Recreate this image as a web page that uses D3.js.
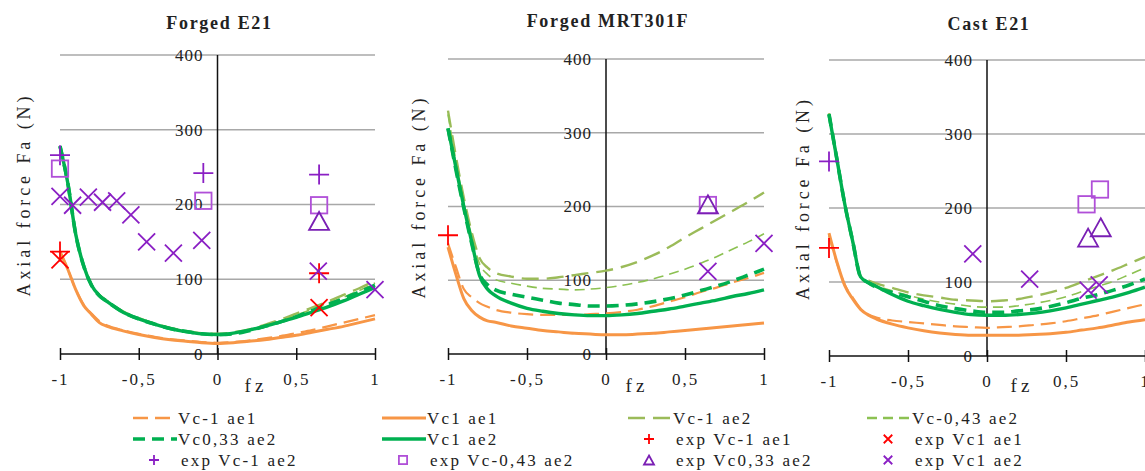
<!DOCTYPE html>
<html>
<head>
<meta charset="utf-8">
<script src="https://cdn.jsdelivr.net/npm/d3@7"></script>
<style>
  body { margin: 0; background: #fff; }
  text { font-family: "Liberation Serif", "DejaVu Serif", serif; fill: #222; }
</style>
</head>
<body>
<script>
'use strict';

// fz sample points shared by all model curves
const fz = [-1, -0.95, -0.9, -0.85, -0.8, -0.75, -0.7, -0.6, -0.5, -0.4, -0.3, -0.2, -0.1, 0, 0.1, 0.2, 0.3, 0.4, 0.5, 0.6, 0.7, 0.8, 0.9, 1];
const yTicks = [0, 100, 200, 300, 400];
const xTicks = [-1, -0.5, 0, 0.5, 1];

// Forged E21
const e21VcM1ae1   = [137, 113, 86, 66, 54, 44, 38, 32, 27, 23, 20, 18, 16, 15, 16, 18, 21, 24, 28, 32, 37, 42, 47, 52];
const e21Vc1ae1    = [137, 113, 86, 65, 53, 42, 37, 31, 26, 22, 19, 17, 15, 14, 15, 17, 19, 22, 25, 29, 33, 37, 42, 47];
const e21VcM1ae2   = [278, 228, 160, 118, 93, 79, 71, 57, 48, 41, 35, 31, 28, 27, 29, 33, 39, 46, 54, 62, 70, 79, 88, 98];
const e21VcM043ae2 = [278, 228, 160, 118, 92, 78, 70, 56, 47, 40, 35, 30, 27, 26, 28, 32, 38, 44, 52, 60, 68, 76, 85, 95];
const e21Vc033ae2  = [278, 228, 160, 118, 92, 78, 70, 56, 47, 40, 34, 30, 27, 26, 27, 31, 37, 43, 50, 58, 66, 74, 83, 92];
const e21Vc1ae2    = [278, 228, 160, 118, 92, 78, 70, 56, 47, 40, 34, 30, 27, 26, 28, 32, 37, 43, 49, 56, 63, 71, 80, 89];

// Forged MRT301F
const mrtVcM1ae1   = [150, 118, 88, 77, 69, 64, 60, 56, 54, 53, 53, 53, 54, 55, 57, 60, 65, 71, 77, 84, 90, 97, 103, 110];
const mrtVc1ae1    = [145, 108, 75, 59, 50, 45, 43, 38, 35, 32, 30, 28, 27, 26, 26, 27, 28, 30, 32, 34, 36, 38, 40, 42];
const mrtVcM1ae2   = [330, 268, 212, 165, 130, 117, 110, 105, 102, 102, 104, 107, 110, 113, 118, 125, 134, 145, 158, 170, 182, 194, 206, 219];
const mrtVcM043ae2 = [325, 262, 206, 160, 122, 108, 101, 96, 92, 89, 88, 87, 88, 90, 93, 97, 102, 108, 115, 123, 132, 142, 152, 163];
const mrtVc033ae2  = [306, 250, 198, 150, 108, 94, 87, 81, 77, 73, 69, 67, 65, 65, 66, 68, 71, 75, 80, 86, 92, 99, 107, 115];
const mrtVc1ae2    = [306, 253, 200, 152, 106, 88, 79, 69, 62, 58, 55, 53, 52, 52, 53, 55, 58, 61, 65, 69, 73, 78, 82, 87];

// Cast E21
const castVcM1ae1   = [163, 126, 96, 79, 64, 56, 52, 48, 46, 44, 42, 40, 39, 38, 39, 40, 42, 44, 47, 51, 55, 60, 65, 70];
const castVc1ae1    = [166, 127, 95, 77, 63, 55, 50, 43, 38, 34, 31, 29, 28, 28, 28, 28, 29, 30, 32, 35, 38, 42, 46, 49];
const castVcM1ae2   = [328, 266, 205, 155, 108, 102, 98, 92, 86, 82, 79, 76, 75, 74, 75, 77, 81, 86, 92, 100, 108, 116, 125, 134];
const castVcM043ae2 = [328, 266, 205, 155, 107, 100, 95, 88, 82, 77, 73, 70, 67, 66, 66, 68, 71, 75, 80, 87, 94, 101, 110, 119];
const castVc033ae2  = [327, 266, 205, 155, 107, 99, 93, 86, 80, 74, 68, 64, 61, 59, 59, 61, 63, 67, 72, 78, 83, 89, 96, 104];
const castVc1ae2    = [326, 266, 205, 155, 107, 99, 94, 83, 74, 68, 63, 59, 56, 55, 55, 56, 58, 61, 65, 70, 75, 80, 86, 93];

// experimental points [fz, Fa]
const e21ExpVcM1ae1   = [[-1, 137], [0.645, 108]];
const e21ExpVc1ae1    = [[-1, 126], [0.645, 62]];
const e21ExpVcM1ae2   = [[-1, 266], [-0.09, 242], [0.645, 240]];
const e21ExpVcM043ae2 = [[-1, 248], [-0.09, 205], [0.645, 199]];
const e21ExpVc033ae2  = [[0.645, 178]];
const e21ExpVc1ae2    = [[-1, 211], [-0.92, 199], [-0.82, 210], [-0.73, 203], [-0.64, 205], [-0.55, 186],
                         [-0.45, 150], [-0.28, 135], [-0.1, 152], [0.64, 111], [1, 86]];

const mrtExpVcM1ae1   = [[-1, 161]];
const mrtExpVc1ae1    = [];
const mrtExpVcM1ae2   = [];
const mrtExpVcM043ae2 = [[0.645, 202]];
const mrtExpVc033ae2  = [[0.645, 203]];
const mrtExpVc1ae2    = [[0.645, 112], [1, 150]];

const castExpVcM1ae1   = [[-1, 146]];
const castExpVc1ae1    = [];
const castExpVcM1ae2   = [[-1, 263]];
const castExpVcM043ae2 = [[0.63, 205], [0.715, 225]];
const castExpVc033ae2  = [[0.64, 160], [0.72, 174]];
const castExpVc1ae2    = [[-0.09, 138], [0.27, 104], [0.64, 89], [0.71, 96]];

const titles = ["Forged E21", "Forged MRT301F", "Cast E21"];
const curveNames = ["Vc-1 ae1", "Vc1 ae1", "Vc-1 ae2", "Vc-0,43 ae2", "Vc0,33 ae2", "Vc1 ae2"];
const markerNames = ["exp Vc-1 ae1", "exp Vc1 ae1", "exp Vc-1 ae2", "exp Vc-0,43 ae2", "exp Vc0,33 ae2", "exp Vc1 ae2"];

(function() {

  const font = '"Liberation Serif", "DejaVu Serif", serif';

  // line styles in the same order as curveNames
  const curveStyle = [
    { color: '#F79646', width: 2.2, dash: '15,7' },
    { color: '#F79646', width: 3,   dash: null },
    { color: '#9BBB59', width: 2.4, dash: '17,8' },
    { color: '#8CC152', width: 1.6, dash: '10,6' },
    { color: '#00B050', width: 3.6, dash: '12,7' },
    { color: '#00B050', width: 3.4, dash: null }
  ];
  // marker styles in the same order as markerNames
  const markerStyle = [
    { shape: 'plus',  color: '#FF0000' },
    { shape: 'cross', color: '#FF0000' },
    { shape: 'plus',  color: '#8A1FC4' },
    { shape: 'square', color: '#B04FD8' },
    { shape: 'tri',   color: '#7A1FB4' },
    { shape: 'cross', color: '#8A1FC4' }
  ];

  const panels = [
    { title: titles[0], px: [60, 375], py: [354, 55], axisX: 30, titleY: 29, fzX: 256,
      curves: [e21VcM1ae1, e21Vc1ae1, e21VcM1ae2, e21VcM043ae2, e21Vc033ae2, e21Vc1ae2],
      points: [e21ExpVcM1ae1, e21ExpVc1ae1, e21ExpVcM1ae2, e21ExpVcM043ae2, e21ExpVc033ae2, e21ExpVc1ae2] },
    { title: titles[1], px: [448, 764], py: [354, 59], axisX: 425, titleY: 27, fzX: 637,
      curves: [mrtVcM1ae1, mrtVc1ae1, mrtVcM1ae2, mrtVcM043ae2, mrtVc033ae2, mrtVc1ae2],
      points: [mrtExpVcM1ae1, mrtExpVc1ae1, mrtExpVcM1ae2, mrtExpVcM043ae2, mrtExpVc033ae2, mrtExpVc1ae2] },
    { title: titles[2], px: [829, 1145], py: [356, 60], axisX: 809, titleY: 30, fzX: 1022,
      curves: [castVcM1ae1, castVc1ae1, castVcM1ae2, castVcM043ae2, castVc033ae2, castVc1ae2],
      points: [castExpVcM1ae1, castExpVc1ae1, castExpVcM1ae2, castExpVcM043ae2, castExpVc033ae2, castExpVc1ae2] }
  ];

  const locale = d3.formatLocale({ decimal: ",", thousands: ".", grouping: [3], currency: ["", ""], minus: "-" });
  const fmt = locale.format("~g");

  let svg = "";

  window.onload = function() {
    svg = d3.select('body').append('svg')
      .attr('width', 1145)
      .attr('height', 471);

    panels.forEach((p) => {
      let maps = drawAxes(p);
      plotCurves(p, maps);
      plotPoints(p, maps);
      makeLabels(p, maps);
    });
    makeLegend();
  };

  function drawAxes(p) {
    let xScale = d3.scaleLinear().domain([-1, 1]).range(p.px);
    let yScale = d3.scaleLinear().domain([0, 400]).range(p.py);

    // grey gridlines
    svg.append('g').selectAll('line')
      .data(yTicks.filter((d) => d > 0))
      .enter().append('line')
        .attr('x1', xScale(-1)).attr('x2', xScale(1))
        .attr('y1', (d) => yScale(d)).attr('y2', (d) => yScale(d))
        .attr('stroke', '#a8a8a8')
        .attr('stroke-width', 1.5);

    // y labels sit left of the zero line
    let yAxis = d3.axisLeft(yScale).tickValues(yTicks).tickSize(0).tickPadding(14);
    let gy = svg.append('g')
      .attr('transform', 'translate(' + xScale(0) + ',0)')
      .call(yAxis);
    gy.select('.domain').remove();
    gy.selectAll('text')
      .style('font-family', font)
      .style('font-size', '17px')
      .style('letter-spacing', '1px')
      .attr('fill', '#222');

    // vertical zero line
    svg.append('line')
      .attr('x1', xScale(0)).attr('x2', xScale(0))
      .attr('y1', yScale(400)).attr('y2', yScale(0))
      .attr('stroke', '#111')
      .attr('stroke-width', 1.5);

    // x axis at Fa = 0, ticks crossing the line
    let xAxis = d3.axisBottom(xScale).tickValues(xTicks).tickSize(6).tickPadding(13).tickFormat(fmt);
    let gx = svg.append('g')
      .attr('transform', 'translate(0,' + yScale(0) + ')')
      .call(xAxis);
    gx.select('.domain').attr('stroke', '#111').attr('stroke-width', 1.5)
      .attr('d', 'M' + xScale(-1) + ',0H' + xScale(1));
    gx.selectAll('.tick line').attr('y1', -6).attr('y2', 6)
      .attr('stroke', '#111').attr('stroke-width', 1.5);
    gx.selectAll('text')
      .style('font-family', font)
      .style('font-size', '17px')
      .style('letter-spacing', '2px')
      .attr('fill', '#222');

    return { x: xScale, y: yScale };
  }

  function plotCurves(p, maps) {
    let line = d3.line()
      .x((d) => maps.x(d[0]))
      .y((d) => maps.y(d[1]))
      .curve(d3.curveMonotoneX);

    p.curves.forEach((vals, i) => {
      let pts = fz.map((f, j) => [f, vals[j]]);
      let s = curveStyle[i];
      svg.append('path')
        .attr('d', line(pts))
        .attr('fill', 'none')
        .attr('stroke', s.color)
        .attr('stroke-width', s.width)
        .attr('stroke-dasharray', s.dash);
    });
  }

  // draws one marker symbol centred on cx, cy
  function drawMarker(g, shape, color, cx, cy, r, sw) {
    let m = g.append('g').attr('transform', 'translate(' + cx + ',' + cy + ')');
    if (shape === 'plus') {
      m.append('path').attr('d', 'M' + (-r) + ',0H' + r + 'M0,' + (-r) + 'V' + r);
    } else if (shape === 'cross') {
      let c = r * 0.85;
      m.append('path').attr('d', 'M' + (-c) + ',' + (-c) + 'L' + c + ',' + c + 'M' + (-c) + ',' + c + 'L' + c + ',' + (-c));
    } else if (shape === 'square') {
      let c = r * 0.82;
      m.append('rect').attr('x', -c).attr('y', -c).attr('width', 2 * c).attr('height', 2 * c);
    } else {
      let h = r * 0.9;
      m.append('path').attr('d', 'M0,' + (-h) + 'L' + r + ',' + h + 'L' + (-r) + ',' + h + 'Z');
    }
    m.selectAll('*')
      .attr('fill', 'none')
      .attr('stroke', color)
      .attr('stroke-width', sw);
  }

  function plotPoints(p, maps) {
    let g = svg.append('g');
    p.points.forEach((set, i) => {
      let s = markerStyle[i];
      set.forEach((d) => {
        drawMarker(g, s.shape, s.color, maps.x(d[0]), maps.y(d[1]), 10, 1.8);
      });
    });
  }

  function makeLabels(p, maps) {
    svg.append('text')
      .attr('x', (p.px[0] + p.px[1]) / 2 + 2)
      .attr('y', p.titleY)
      .attr('text-anchor', 'middle')
      .style('font-size', '18px')
      .style('font-weight', 'bold')
      .style('letter-spacing', '1.7px')
      .text(p.title);

    svg.append('text')
      .attr('transform', 'translate(' + p.axisX + ',' + ((p.py[0] + p.py[1]) / 2 - 8) + ')rotate(-90)')
      .attr('text-anchor', 'middle')
      .attr('textLength', 200)
      .attr('lengthAdjust', 'spacing')
      .style('font-size', '18px')
      .text('Axial force Fa (N)');

    svg.append('text')
      .attr('x', p.fzX)
      .attr('y', 392)
      .attr('text-anchor', 'middle')
      .style('font-size', '19px')
      .style('letter-spacing', '4px')
      .text('fz');
  }

  function makeLegend() {
    // rows / columns of the legend block under the panels
    let rowY = [418, 439, 460];
    let colX = [133, 382, 628, 867];
    let items = [
      { kind: 'line', idx: 0, col: 0, row: 0 },
      { kind: 'line', idx: 1, col: 1, row: 0 },
      { kind: 'line', idx: 2, col: 2, row: 0 },
      { kind: 'line', idx: 3, col: 3, row: 0 },
      { kind: 'line', idx: 4, col: 0, row: 1 },
      { kind: 'line', idx: 5, col: 1, row: 1 },
      { kind: 'mark', idx: 0, col: 2, row: 1 },
      { kind: 'mark', idx: 1, col: 3, row: 1 },
      { kind: 'mark', idx: 2, col: 0, row: 2 },
      { kind: 'mark', idx: 3, col: 1, row: 2 },
      { kind: 'mark', idx: 4, col: 2, row: 2 },
      { kind: 'mark', idx: 5, col: 3, row: 2 }
    ];
    let g = svg.append('g');
    items.forEach((it) => {
      let x = colX[it.col];
      let y = rowY[it.row];
      if (it.kind === 'line') {
        let s = curveStyle[it.idx];
        g.append('line')
          .attr('x1', x).attr('x2', x + 44)
          .attr('y1', y).attr('y2', y)
          .attr('stroke', s.color)
          .attr('stroke-width', Math.max(s.width, 2.4))
          .attr('stroke-dasharray', s.dash);
        g.append('text')
          .attr('x', x + 45)
          .attr('y', y + 6)
          .style('font-size', '17px')
          .style('letter-spacing', '2.2px')
          .text(curveNames[it.idx]);
      } else {
        let s = markerStyle[it.idx];
        drawMarker(g, s.shape, s.color, x + 21, y, 5, 1.8);
        g.append('text')
          .attr('x', x + 48)
          .attr('y', y + 6)
          .style('font-size', '17px')
          .style('letter-spacing', '2.2px')
          .text(markerNames[it.idx]);
      }
    });
  }

})();
</script>
</body>
</html>
